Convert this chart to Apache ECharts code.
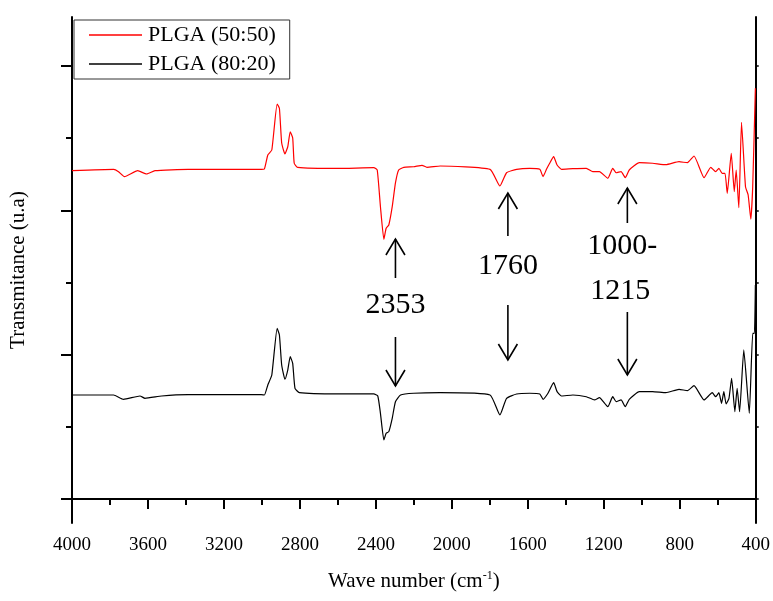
<!DOCTYPE html>
<html>
<head>
<meta charset="utf-8">
<script src="https://cdn.jsdelivr.net/npm/echarts@6/dist/echarts.min.js"></script>
<style>html,body{margin:0;padding:0;background:#fff}#c{width:773px;height:601px}</style>
</head>
<body>
<div id="c"></div>
<script>
// Wave numbers (cm-1) and transmittance (arbitrary units)
const redWn = [4000,3781,3755,3724,3654,3607,3563,3389,3004,2987,2969,2948,2920,2908,2896,2879,2864,2851,2838,2830,2812,2600,2411,2393,2376,2358,2346,2332,2314,2297,2280,2253,2201,2157,2131,2061,1799,1747,1712,1659,1590,1537,1520,1502,1485,1464,1446,1423,1363,1292,1258,1223,1179,1153,1135,1109,1087,1066,1013,943,873,804,760,725,672,637,611,594,577,562,550,529,513,503,489,475,454,440,426,416,402];
const redT = [45.49,45.68,45.35,44.66,45.49,45.03,45.49,45.68,45.68,45.73,47.67,48.36,54.73,54.14,49.33,47.81,48.81,50.89,50.02,46.52,45.96,45.8,45.91,45.59,40.50,35.98,37.51,37.97,40.50,43.79,45.59,45.96,46.04,46.24,45.96,46.14,45.68,43.37,45.21,45.68,45.82,45.68,44.66,45.68,46.52,47.43,46.28,45.68,45.77,45.82,45.35,45.35,44.44,45.82,45.21,45.35,44.52,45.59,46.60,46.52,46.32,46.74,46.60,47.53,44.52,45.96,45.35,45.82,45.13,45.13,42.36,47.90,42.58,45.59,40.36,52.20,43.27,42.12,38.76,43.27,56.91];

const blackWn = [4000,3781,3729,3642,3616,3528,3389,3004,2987,2969,2948,2920,2908,2896,2879,2864,2851,2838,2826,2803,2600,2411,2390,2376,2358,2346,2332,2314,2297,2270,2201,2061,1799,1747,1712,1659,1590,1537,1520,1494,1464,1446,1423,1363,1292,1249,1223,1179,1153,1135,1109,1087,1066,1013,943,873,804,760,725,672,629,611,594,580,568,556,541,527,510,498,485,463,434,416,407,402];
const blackT = [14.41,14.41,13.81,14.27,13.95,14.27,14.45,14.45,14.41,15.80,17.18,23.65,22.72,18.57,16.59,17.87,19.72,18.80,15.34,14.73,14.55,14.55,14.27,11.87,8.18,9.10,9.33,11.18,13.48,14.41,14.65,14.73,14.41,11.64,13.95,14.55,14.65,14.55,13.81,14.65,16.11,14.87,14.27,14.41,14.17,13.72,14.04,12.79,14.17,13.48,13.72,12.79,13.81,14.87,14.87,14.73,15.20,15.01,15.70,13.72,14.73,14.17,14.73,13.26,14.87,13.16,13.95,16.72,12.10,15.34,12.10,20.65,11.87,22.96,22.96,29.65];

const seriesNames = ['PLGA (50:50)', 'PLGA (80:20)'];
const yMajorTicks = [0,20,40,60];
const yMinorTicks = [10,30,50];
const yAllTicks = [0,10,20,30,40,50,60];
// annotation labels and the wave numbers where their arrows sit
const annotLabels = [['2353'], ['1760'], ['1000-', '1215']];
const annotWn = [2297, 1705, 1076];

const FONT = 'Liberation Serif';
const chart = echarts.init(document.getElementById('c'), null, {renderer:'canvas'});

function pairs(xs, ys){ return xs.map((x,i)=>[x, ys[i]]); }

const option = {
  animation:false,
  backgroundColor:'#fff',
  grid:{left:71, right:15, top:17, bottom:78},
  legend:{
    data:seriesNames, orient:'vertical', left:74, top:20,
    icon:'rect', itemWidth:53, itemHeight:1.5, itemGap:7,
    padding:[4,14,4,15],
    borderColor:'#333', borderWidth:1,
    textStyle:{fontFamily:FONT, fontSize:22, color:'#000', padding:[0,0,0,1]}
  },
  xAxis:[
    {type:'value', inverse:true, min:400, max:4000, interval:400, position:'bottom',
     axisLine:{lineStyle:{color:'#000', width:2}},
     axisTick:{show:true, inside:false, length:10, lineStyle:{color:'#000', width:2}},
     minorTick:{show:true, splitNumber:2, length:6, lineStyle:{color:'#000', width:2}},
     axisLabel:{fontFamily:FONT, fontSize:19, color:'#000', margin:13, formatter:v=>String(v)},
     splitLine:{show:false},
     name:'Wave number (cm{sup|-1})', nameLocation:'middle', nameGap:47,
     nameTextStyle:{fontFamily:FONT, fontSize:21, color:'#000',
       rich:{sup:{fontFamily:FONT, fontSize:12, color:'#000', verticalAlign:'top', padding:[0,0,10,0]}}}
    },
    {type:'value', inverse:true, min:400, max:4000, interval:200, position:'top',
     axisLine:{lineStyle:{color:'#000', width:2}},
     axisTick:{show:true, inside:true, length:3, lineStyle:{color:'#000', width:1.5}},
     axisLabel:{show:false}, splitLine:{show:false}}
  ],
  yAxis:[
    {type:'value', min:-3.33, max:66.79, position:'left',
     axisLine:{show:true, lineStyle:{color:'#000', width:2}},
     axisTick:{show:true, inside:false, length:11, customValues:yMajorTicks, lineStyle:{color:'#000', width:2}},
     axisLabel:{show:false}, splitLine:{show:false},
     name:'Transmitance (u.a)', nameLocation:'middle', nameGap:43, nameRotate:90,
     nameTextStyle:{fontFamily:FONT, fontSize:21, color:'#000'}},
    {type:'value', min:-3.33, max:66.79, position:'left',
     axisLine:{show:false},
     axisTick:{show:true, inside:false, length:6, customValues:yMinorTicks, lineStyle:{color:'#000', width:2}},
     axisLabel:{show:false}, splitLine:{show:false}},
    {type:'value', min:-3.33, max:66.79, position:'right',
     axisLine:{show:true, lineStyle:{color:'#000', width:2}},
     axisTick:{show:true, inside:false, length:3, customValues:yAllTicks, lineStyle:{color:'#000', width:1.5}},
     axisLabel:{show:false}, splitLine:{show:false}}
  ],
  series:[
    {name:seriesNames[0], type:'line', xAxisIndex:0, yAxisIndex:0, data:pairs(redWn, redT),
     symbol:'none', smooth:0.15, lineStyle:{color:'#ff0000', width:1.2}, itemStyle:{color:'#ff0000'}},
    {name:seriesNames[1], type:'line', xAxisIndex:0, yAxisIndex:0, data:pairs(blackWn, blackT),
     symbol:'none', smooth:0.15, lineStyle:{color:'#000', width:1.2}, itemStyle:{color:'#000'}}
  ]
};
chart.setOption(option);

function arrow(x, yTail, yTip){
  const dir = yTip < yTail ? 1 : -1; // 1 = pointing up
  return [
    {type:'line', shape:{x1:x, y1:yTail, x2:x, y2:yTip}, style:{stroke:'#000', lineWidth:1.6}, silent:true},
    {type:'polyline', shape:{points:[[x-9.5, yTip+16*dir],[x, yTip],[x+9.5, yTip+16*dir]]}, style:{stroke:'#000', lineWidth:1.6, fill:null}, silent:true}
  ];
}
function label(text, x, y){
  return {type:'text', x:x, y:y, style:{text:text, font:'30px "Liberation Serif"', fill:'#000', align:'center', verticalAlign:'middle'}, silent:true};
}
// arrow extents and label positions (layout only)
const layout = [
  {textY:[305], dx:[0], up:[278, 239], down:[337, 386]},
  {textY:[266], dx:[0], up:[236, 193], down:[305, 360]},
  {textY:[246, 291], dx:[-5, -7], up:[223, 188], down:[312, 375]}
];
const g = [];
annotWn.forEach((wn, i)=>{
  const x = chart.convertToPixel({xAxisIndex:0}, wn);
  const L = layout[i];
  g.push(...arrow(x, L.up[0], L.up[1]));
  g.push(...arrow(x, L.down[0], L.down[1]));
  annotLabels[i].forEach((t, j)=>g.push(label(t, x + L.dx[j], L.textY[j])));
});
chart.setOption({graphic:g});
</script>
</body>
</html>
